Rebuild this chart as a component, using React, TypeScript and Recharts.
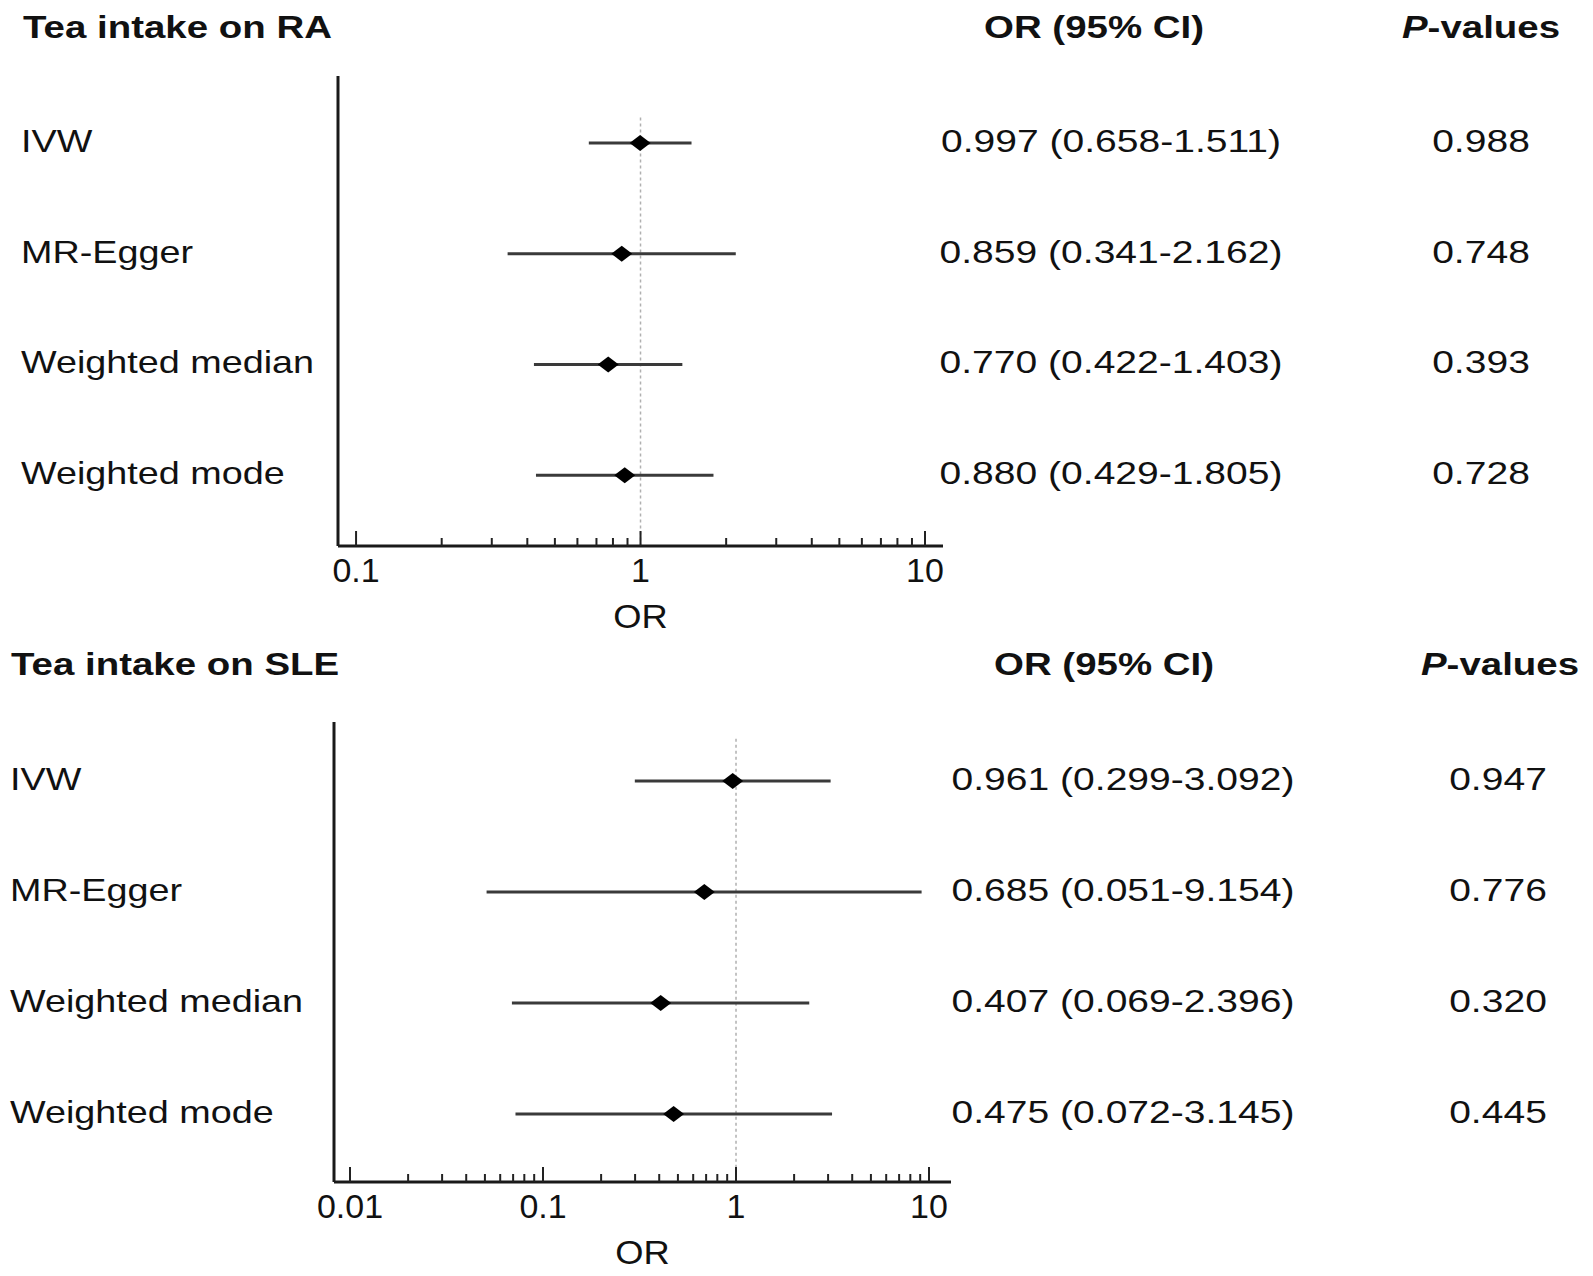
import React from 'react';
import { ScatterChart, Scatter, XAxis, YAxis, ErrorBar, ReferenceLine, Label } from 'recharts';

const methods = ['IVW', 'MR-Egger', 'Weighted median', 'Weighted mode'];
const rowPos = [1, 2, 3, 4];

// Tea intake on RA
const raOR = [0.997, 0.859, 0.77, 0.88];
const raLow = [0.658, 0.341, 0.422, 0.429];
const raHigh = [1.511, 2.162, 1.403, 1.805];
const raP = ['0.988', '0.748', '0.393', '0.728'];

// Tea intake on SLE
const sleOR = [0.961, 0.685, 0.407, 0.475];
const sleLow = [0.299, 0.051, 0.069, 0.072];
const sleHigh = [3.092, 9.154, 2.396, 3.145];
const sleP = ['0.947', '0.776', '0.320', '0.445'];

const raTicks = [0.1, 0.2, 0.3, 0.4, 0.5, 0.6, 0.7, 0.8, 0.9, 1, 2, 3, 4, 5, 6, 7, 8, 9, 10];
const raMajor = [0.1, 1, 10];
const sleTicks = [
  0.01, 0.02, 0.03, 0.04, 0.05, 0.06, 0.07, 0.08, 0.09,
  0.1, 0.2, 0.3, 0.4, 0.5, 0.6, 0.7, 0.8, 0.9,
  1, 2, 3, 4, 5, 6, 7, 8, 9, 10,
];
const sleMajor = [0.01, 0.1, 1, 10];

const FONT = "'Liberation Sans', Arial, Helvetica, sans-serif";
const INK = '#111';

// the source figure is stretched sideways, so text is scaled on x
function WideText({ x, y, anchor = 'start', sx = 1.2, size = 32, bold = false, children }: any) {
  return (
    <text
      transform={`translate(${x},${y}) scale(${sx},1)`}
      textAnchor={anchor}
      fontFamily={FONT}
      fontSize={size}
      fontWeight={bold ? 700 : 400}
      fill={INK}
    >
      {children}
    </text>
  );
}

const fmt = (v: number) => v.toFixed(3);

function makeRows(or: number[], low: number[], high: number[]) {
  return rowPos.map((r, i) => ({
    row: r,
    or: or[i],
    err: [or[i] - low[i], high[i] - or[i]],
  }));
}

const Diamond = (props: any) => {
  const { cx, cy } = props;
  if (cx == null || cy == null) return null;
  const hw = 10.5;
  const hh = 8;
  return (
    <polygon
      points={`${cx - hw},${cy} ${cx},${cy - hh} ${cx + hw},${cy} ${cx},${cy + hh}`}
      fill="#000"
    />
  );
};

const panels = [
  {
    title: 'Tea intake on RA',
    rows: makeRows(raOR, raLow, raHigh),
    or: raOR, low: raLow, high: raHigh, p: raP,
    ticks: raTicks, major: raMajor,
    xDomain: [0.0864, 11.57],
    yDomain: [0.395, 4.64],
    refFrom: 0.77,
    top: 0, marginTop: 76, yWidth: 338, right: 650, xHeight: 92,
    labelX: 21, orX: 1111, pX: 1481,
    titleX: 23, titleY: 38, headOrX: 1094, headPX: 1481,
  },
  {
    title: 'Tea intake on SLE',
    rows: makeRows(sleOR, sleLow, sleHigh),
    or: sleOR, low: sleLow, high: sleHigh, p: sleP,
    ticks: sleTicks, major: sleMajor,
    xDomain: [0.00826, 13.0],
    yDomain: [0.468, 4.613],
    refFrom: 0.62,
    top: 638, marginTop: 84, yWidth: 334, right: 642, xHeight: 94,
    labelX: 10, orX: 1123, pX: 1498,
    titleX: 11, titleY: 675, headOrX: 1104, headPX: 1500,
  },
];

function Panel({ cfg }: any) {
  const rowTick = (props: any) => {
    const { y, payload } = props;
    const i = rowPos.indexOf(payload.value);
    if (i < 0) return null;
    return (
      <g>
        <WideText x={cfg.labelX} y={y + 9} sx={1.18}>{methods[i]}</WideText>
        <WideText x={cfg.orX} y={y + 9} anchor="middle" sx={1.22}>
          {`${fmt(cfg.or[i])} (${fmt(cfg.low[i])}-${fmt(cfg.high[i])})`}
        </WideText>
        <WideText x={cfg.pX} y={y + 9} anchor="middle" sx={1.22}>{cfg.p[i]}</WideText>
      </g>
    );
  };

  const xTick = (props: any) => {
    const { x, y, payload } = props;
    const isMajor = cfg.major.includes(payload.value);
    return (
      <g>
        <line x1={x} x2={x} y1={y} y2={y - (isMajor ? 15 : 8)} stroke="#222" strokeWidth={2} />
        {isMajor && (
          <WideText x={x} y={y + 36} anchor="middle" size={33} sx={1.03}>{String(payload.value)}</WideText>
        )}
      </g>
    );
  };

  const orLabel = (props: any) => {
    const vb = props.viewBox || {};
    return (
      <WideText x={vb.x + vb.width / 2} y={vb.y + 82} anchor="middle" size={33} sx={1.1}>OR</WideText>
    );
  };

  return (
    <div style={{ position: 'absolute', left: 0, top: cfg.top }}>
      <ScatterChart
        width={1593}
        height={638}
        margin={{ top: cfg.marginTop, right: cfg.right, bottom: 0, left: 0 }}
      >
        <XAxis
          type="number"
          dataKey="or"
          scale="log"
          domain={cfg.xDomain}
          allowDataOverflow
          ticks={cfg.ticks}
          interval={0}
          tickSize={0}
          tickMargin={0}
          tickLine={false}
          tick={xTick}
          height={cfg.xHeight}
          axisLine={{ stroke: '#1a1a1a', strokeWidth: 3 }}
        >
          <Label content={orLabel} />
        </XAxis>
        <YAxis
          type="number"
          dataKey="row"
          reversed
          domain={cfg.yDomain}
          allowDataOverflow
          ticks={rowPos}
          interval={0}
          width={cfg.yWidth}
          tickSize={0}
          tickMargin={0}
          tickLine={false}
          tick={rowTick}
          axisLine={{ stroke: '#1a1a1a', strokeWidth: 3 }}
        />
        <ReferenceLine
          segment={[{ x: 1, y: cfg.refFrom }, { x: 1, y: cfg.yDomain[1] }]}
          stroke="#b0b0b0"
          strokeWidth={1.5}
          strokeDasharray="3 3"
        />
        <Scatter data={cfg.rows} shape={Diamond} isAnimationActive={false}>
          <ErrorBar
            dataKey="err"
            direction="x"
            width={0}
            stroke="#3a3a3a"
            strokeWidth={3}
            isAnimationActive={false}
          />
        </Scatter>
      </ScatterChart>
    </div>
  );
}

export default function App() {
  return (
    <div style={{ position: 'absolute', left: 0, top: 0, width: 1593, height: 1276, background: '#fff' }}>
      {panels.map((cfg) => (
        <Panel key={cfg.title} cfg={cfg} />
      ))}
      <svg
        width={1593}
        height={1276}
        style={{ position: 'absolute', left: 0, top: 0, pointerEvents: 'none' }}
      >
        {panels.map((cfg) => (
          <g key={cfg.title}>
            <WideText x={cfg.titleX} y={cfg.titleY} size={31} sx={1.24} bold>{cfg.title}</WideText>
            <WideText x={cfg.headOrX} y={cfg.titleY} anchor="middle" size={31} sx={1.24} bold>OR (95% CI)</WideText>
            <text
              transform={`translate(${cfg.headPX},${cfg.titleY}) scale(1.24,1)`}
              textAnchor="middle"
              fontFamily={FONT}
              fontSize={31}
              fontWeight={700}
              fill={INK}
            >
              <tspan fontStyle="italic">P</tspan>-values
            </text>
          </g>
        ))}
      </svg>
    </div>
  );
}
